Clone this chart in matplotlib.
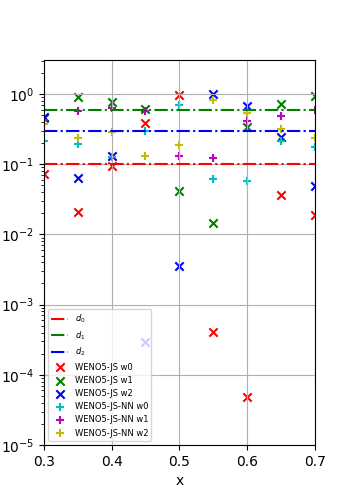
import numpy as np
import matplotlib
matplotlib.use("Agg")
import matplotlib.pyplot as plt

# ──────────────────────────────────────────────────────────────────────────────
# Data
# ──────────────────────────────────────────────────────────────────────────────

x = [0.30, 0.35, 0.40, 0.45, 0.50, 0.55, 0.60, 0.65, 0.70]

d_lines = [0.1, 0.6, 0.3]
d_labels = ["$d_0$", "$d_1$", "$d_2$"]

js_w0 = [0.073, 0.0206, 0.094, 0.385, 0.97, 4.1e-4, 4.85e-5, 0.036, 0.0187]
js_w1 = [0.457, 0.905, 0.76, 0.62, 0.0416, 0.0144, 0.335, 0.72, 0.945]
js_w2 = [0.47, 0.063, 0.131, 2.96e-4, 3.6e-3, 1.0, 0.675, 0.248, 0.049]

nn_w0 = [0.215, 0.193, 0.126, 0.293, 0.70, 0.0624, 0.0578, 0.211, 0.177]
nn_w1 = [0.42, 0.58, 0.625, 0.566, 0.131, 0.122, 0.41, 0.48, 0.597]
nn_w2 = [0.37, 0.235, 0.283, 0.131, 0.189, 0.82, 0.535, 0.316, 0.235]

line_colors = ["r", "g", "b"]
nn_colors = ["c", "m", "y"]

# ──────────────────────────────────────────────────────────────────────────────
# Plot
# ──────────────────────────────────────────────────────────────────────────────

fig, ax = plt.subplots(figsize=(3.5, 5), dpi=100)

for d, c, lab in zip(d_lines, line_colors, d_labels):
    ax.axhline(d, color=c, linestyle="-.", lw=1.5, label=lab)

for i, (w, c) in enumerate(zip([js_w0, js_w1, js_w2], line_colors)):
    ax.scatter(x, w, marker="x", color=c, label=f"WENO5-JS w{i}")

for i, (w, c) in enumerate(zip([nn_w0, nn_w1, nn_w2], nn_colors)):
    ax.scatter(x, w, marker="+", color=c, label=f"WENO5-JS-NN w{i}")

ax.set_yscale("log")
ax.set_xlim(0.3, 0.7)
ax.set_ylim(1e-5, 3.05)
ax.set_xticks([0.3, 0.4, 0.5, 0.6, 0.7])
ax.set_xlabel("x")
ax.grid(True)
ax.legend(loc="lower left", fontsize=6)

fig.savefig("out.png", dpi=100)
plt.close(fig)
